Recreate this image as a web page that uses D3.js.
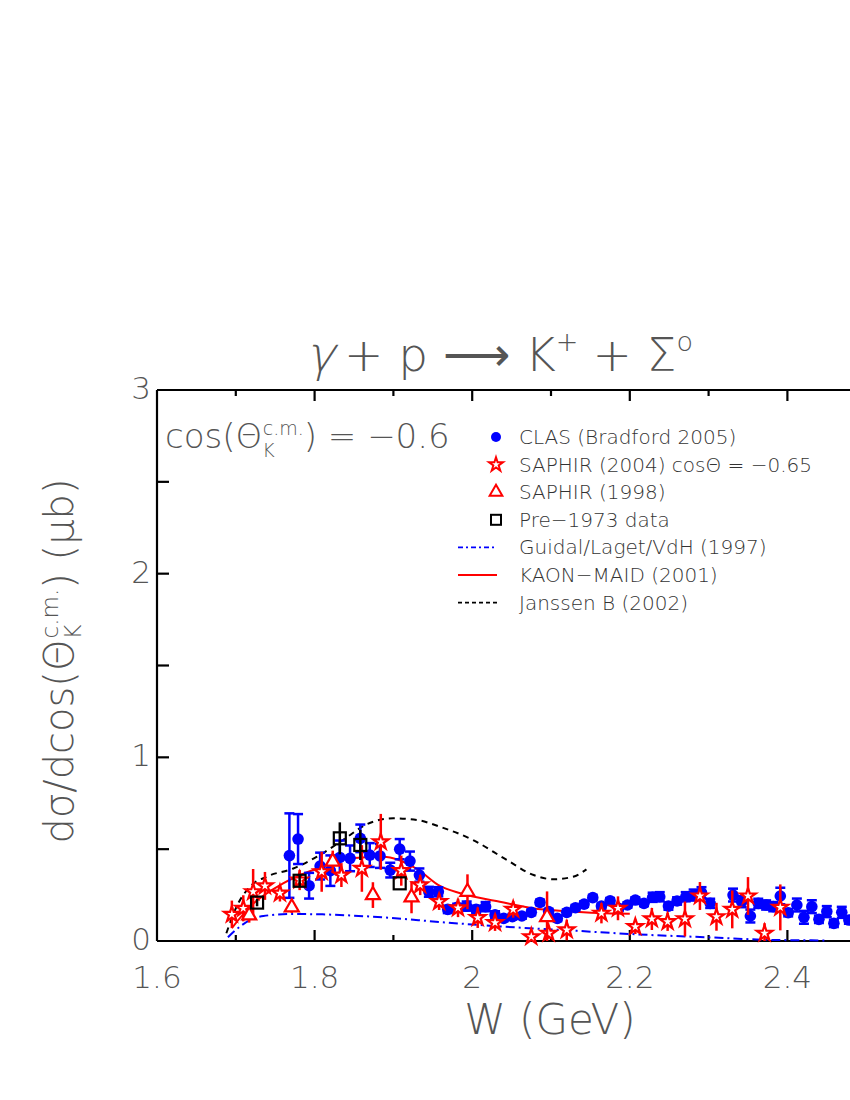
<!DOCTYPE html>
<html><head><meta charset="utf-8">
<script src="https://cdn.jsdelivr.net/npm/d3@7"></script>
<style>body{margin:0;background:#fff}</style></head>
<body><svg id="c" width="850" height="1100"></svg>
<script>
// ---------- data ----------
const clasW = [1.768,1.779,1.793,1.807,1.820,1.832,1.845,1.858,1.870,1.883,1.896,1.908,1.921,1.933,1.945,1.957,1.969,1.981,1.993,2.005,2.017,2.029,2.040,2.051,2.063,2.075,2.086,2.097,2.108,2.120,2.131,2.142,2.153,2.164,2.175,2.186,2.197,2.207,2.218,2.229,2.238,2.249,2.260,2.271,2.281,2.291,2.302,2.331,2.342,2.353,2.363,2.373,2.382,2.391,2.401,2.412,2.421,2.431,2.440,2.450,2.459,2.469,2.478];
const clasV = [0.465,0.555,0.301,0.408,0.383,0.455,0.450,0.559,0.468,0.463,0.386,0.500,0.435,0.359,0.268,0.268,0.172,0.183,0.190,0.172,0.187,0.142,0.123,0.132,0.136,0.156,0.210,0.160,0.123,0.156,0.181,0.201,0.236,0.190,0.219,0.178,0.196,0.223,0.205,0.238,0.241,0.190,0.218,0.241,0.250,0.263,0.205,0.250,0.214,0.136,0.205,0.196,0.187,0.245,0.154,0.196,0.129,0.187,0.118,0.160,0.096,0.156,0.114];
const clasE = [0.230,0.136,0.070,0.073,0.083,0.092,0.070,0.075,0.065,0.065,0.040,0.055,0.052,0.036,0.027,0.025,0.020,0.020,0.025,0.020,0.025,0.020,0.015,0.015,0.015,0.015,0.015,0.015,0.015,0.015,0.015,0.015,0.015,0.015,0.015,0.015,0.015,0.015,0.015,0.025,0.025,0.020,0.020,0.025,0.030,0.030,0.025,0.035,0.030,0.035,0.025,0.025,0.025,0.045,0.020,0.035,0.035,0.035,0.020,0.030,0.020,0.030,0.020];

const saph04W = [1.695,1.7095,1.722,1.737,1.756,1.781,1.809,1.834,1.860,1.884,1.910,1.934,1.958,1.982,2.007,2.029,2.052,2.075,2.097,2.120,2.164,2.185,2.207,2.228,2.248,2.270,2.289,2.310,2.330,2.350,2.371,2.391];
const saph04V = [0.145,0.178,0.268,0.300,0.260,0.332,0.377,0.359,0.395,0.540,0.383,0.305,0.214,0.180,0.127,0.100,0.172,0.023,0.042,0.060,0.151,0.178,0.078,0.120,0.105,0.120,0.245,0.132,0.172,0.245,0.042,0.183];
const saph04E = [0.075,0.071,0.124,0.076,0.045,0.055,0.109,0.065,0.127,0.152,0.082,0.055,0.045,0.050,0.056,0.045,0.045,0.020,0.030,0.056,0.055,0.065,0.040,0.060,0.050,0.095,0.076,0.076,0.103,0.103,0.055,0.125];

const saph98W = [1.717,1.771,1.823,1.874,1.923,1.994,2.095];
const saph98V = [0.140,0.183,0.432,0.250,0.238,0.268,0.130];
const saph98E = [0.040,0.030,0.060,0.070,0.087,0.095,0.140];

const oldW = [1.727,1.781,1.832,1.858,1.908];
const oldV = [0.209,0.328,0.559,0.523,0.314];
const oldE = [0.020,0.030,0.087,0.082,0.000];

const guidalW = [1.690,1.700,1.718,1.735,1.770,1.810,1.850,1.890,1.960,2.040,2.130,2.210,2.300,2.380,2.450];
const guidalV = [0.020,0.060,0.114,0.136,0.147,0.145,0.138,0.128,0.103,0.078,0.056,0.036,0.020,0.006,0.003];

const maidW = [1.695,1.718,1.760,1.803,1.845,1.887,1.930,1.959,1.985,2.035,2.077,2.120,2.160,2.200];
const maidV = [0.070,0.187,0.314,0.395,0.450,0.459,0.392,0.300,0.260,0.214,0.178,0.162,0.152,0.148];

const janW = [1.688,1.701,1.718,1.739,1.773,1.803,1.836,1.866,1.900,1.930,1.959,2.001,2.044,2.078,2.103,2.128,2.145];
const janV = [0.042,0.187,0.296,0.350,0.395,0.459,0.550,0.635,0.668,0.659,0.622,0.550,0.441,0.359,0.336,0.350,0.390];

const xTicks = [1.6,1.8,2.0,2.2,2.4];
const xTickLabels = ["1.6","1.8","2","2.2","2.4"];
const yTicks = [0,1,2,3];
const yTickLabels = ["0","1","2","3"];
const legendLabels = ["CLAS (Bradford 2005)","SAPHIR (2004) cos\u0398 = \u22120.65","SAPHIR (1998)","Pre\u22121973 data","Guidal/Laget/VdH (1997)","KAON\u2212MAID (2001)","Janssen B (2002)"];

// ---------- drawing ----------
const svg = d3.select("#c");
const x = d3.scaleLinear().domain([1.6,2.6]).range([157,945]);
const y = d3.scaleLinear().domain([0,3]).range([941,390]);
const gray = "#555";
const FONT = "'DejaVu Sans', sans-serif";

const zip = (a,b,c) => a.map((d,i)=>({w:d,v:b[i],e:c?c[i]:0}));

// frame
const frame = svg.append("g").attr("stroke","#000").attr("stroke-width",2.2).attr("fill","none");
frame.append("line").attr("x1",x(1.6)).attr("x2",x(2.6)).attr("y1",y(0)).attr("y2",y(0));
frame.append("line").attr("x1",x(1.6)).attr("x2",x(2.6)).attr("y1",y(3)).attr("y2",y(3));
frame.append("line").attr("x1",x(1.6)).attr("x2",x(1.6)).attr("y1",y(0)).attr("y2",y(3));

d3.range(1.7,2.6,0.1).forEach(t=>{
  const major = Math.abs(Math.round(t*10)%2)===0;
  const L = major?11:6;
  frame.append("line").attr("x1",x(t)).attr("x2",x(t)).attr("y1",y(0)).attr("y2",y(0)-L);
  frame.append("line").attr("x1",x(t)).attr("x2",x(t)).attr("y1",y(3)).attr("y2",y(3)+L);
});
[0.5,1,1.5,2,2.5].forEach(t=>{
  frame.append("line").attr("x1",x(1.6)).attr("x2",x(1.6)+12).attr("y1",y(t)).attr("y2",y(t));
});

// tick labels
svg.append("g").selectAll("text").data(xTicks).join("text")
  .attr("x",d=>x(d)).attr("y",988).attr("text-anchor","middle")
  .attr("font-family",FONT).attr("font-weight",200).attr("font-size",31).attr("fill",gray)
  .text((d,i)=>xTickLabels[i]);
svg.append("g").selectAll("text").data(yTicks).join("text")
  .attr("x",151).attr("y",d=>y(d)+9).attr("text-anchor","end")
  .attr("font-family",FONT).attr("font-weight",200).attr("font-size",31).attr("fill",gray)
  .text((d,i)=>yTickLabels[i]);

// axis titles
svg.append("text").attr("x",550).attr("y",1034).attr("text-anchor","middle")
  .attr("font-family",FONT).attr("font-weight",200).attr("font-size",42).attr("fill",gray)
  .text("W (GeV)");
const yl = svg.append("text").attr("transform","translate(73,661) rotate(-90)").attr("text-anchor","middle")
  .attr("font-family",FONT).attr("font-weight",200).attr("font-size",40).attr("fill",gray);
yl.append("tspan").text("d\u03c3/dcos(\u0398");
yl.append("tspan").attr("font-size",23).attr("dy",8).text("K");
yl.append("tspan").attr("font-size",23).attr("dx",-14).attr("dy",-23).text("c.m.");
yl.append("tspan").attr("dy",15).text(") (\u03bcb)");

// title
svg.append("text").attr("transform","translate(306,371) skewX(-14)")
  .attr("font-family",FONT).attr("font-weight",200).attr("font-size",48).attr("fill",gray).text("\u03b3");
const tt = svg.append("text").attr("x",344).attr("y",371)
  .attr("font-family",FONT).attr("font-weight",200).attr("font-size",47).attr("fill",gray);
tt.append("tspan").text("+ p \u27f6 K");
tt.append("tspan").attr("font-size",27).attr("dy",-20).text("+");
tt.append("tspan").attr("dx",14).attr("dy",20).text("+ \u03a3");
tt.append("tspan").attr("font-size",27).attr("dy",-20).text("o");

// angle annotation
const an = svg.append("text").attr("x",165).attr("y",448)
  .attr("font-family",FONT).attr("font-weight",200).attr("font-size",34).attr("fill",gray);
an.append("tspan").text("cos(\u0398");
an.append("tspan").attr("font-size",19).attr("dy",9).text("K");
an.append("tspan").attr("font-size",19).attr("dx",-12).attr("dy",-22).text("c.m.");
an.append("tspan").attr("dy",13).text(") = \u22120.6");

// curves
const line = d3.line().x(d=>x(d.w)).y(d=>y(d.v)).curve(d3.curveMonotoneX);
svg.append("path").attr("d",line(zip(guidalW,guidalV))).attr("fill","none").attr("stroke","#0000ff").attr("stroke-width",2).attr("stroke-dasharray","9,4,2,4");
svg.append("path").attr("d",line(zip(maidW,maidV))).attr("fill","none").attr("stroke","#ff0000").attr("stroke-width",2);
svg.append("path").attr("d",line(zip(janW,janV))).attr("fill","none").attr("stroke","#000").attr("stroke-width",2).attr("stroke-dasharray","6,5");

// symbols
const starPath = d3.symbol().type(d3.symbolStar).size(75)();
const triPath = d3.symbol().type(d3.symbolTriangle).size(85)();

function errBars(data,color,cap){
  const g = svg.append("g").attr("stroke",color).attr("stroke-width",2.5);
  data.filter(d=>d.e>0).forEach(d=>{
    g.append("line").attr("x1",x(d.w)).attr("x2",x(d.w)).attr("y1",y(d.v+d.e)).attr("y2",y(Math.max(0,d.v-d.e)));
    if(cap){
      g.append("line").attr("x1",x(d.w)-cap).attr("x2",x(d.w)+cap).attr("y1",y(d.v+d.e)).attr("y2",y(d.v+d.e));
      g.append("line").attr("x1",x(d.w)-cap).attr("x2",x(d.w)+cap).attr("y1",y(d.v-d.e)).attr("y2",y(d.v-d.e));
    }
  });
}
const clas = zip(clasW,clasV,clasE);
errBars(clas,"#0000ff",5);
svg.append("g").selectAll("circle").data(clas).join("circle")
  .attr("cx",d=>x(d.w)).attr("cy",d=>y(d.v)).attr("r",5.8).attr("fill","#0000ff");

const s04 = zip(saph04W,saph04V,saph04E);
errBars(s04,"#ff0000",0);
svg.append("g").selectAll("path").data(s04).join("path")
  .attr("d",starPath).attr("transform",d=>`translate(${x(d.w)},${y(d.v)})`)
  .attr("fill","#fff").attr("stroke","#ff0000").attr("stroke-width",2.2);

const s98 = zip(saph98W,saph98V,saph98E);
errBars(s98,"#ff0000",0);
svg.append("g").selectAll("path").data(s98).join("path")
  .attr("d",triPath).attr("transform",d=>`translate(${x(d.w)},${y(d.v)})`)
  .attr("fill","#fff").attr("stroke","#ff0000").attr("stroke-width",2.2);

const old = zip(oldW,oldV,oldE);
errBars(old,"#000",0);
svg.append("g").selectAll("rect").data(old).join("rect")
  .attr("x",d=>x(d.w)-6).attr("y",d=>y(d.v)-6).attr("width",12).attr("height",12)
  .attr("fill","none").attr("stroke","#000").attr("stroke-width",2.2);

// legend
const ly0 = 437, ldy = 27.6;
const lg = svg.append("g");
legendLabels.forEach((t,i)=>{
  lg.append("text").attr("x",519).attr("y",ly0+i*ldy+7).attr("font-family",FONT).attr("font-weight",200)
    .attr("font-size",20).attr("fill","#333").text(t);
});
lg.append("circle").attr("cx",496).attr("cy",ly0).attr("r",5).attr("fill","#0000ff");
lg.append("path").attr("d",d3.symbol().type(d3.symbolStar).size(60)()).attr("transform",`translate(496,${ly0+ldy})`).attr("fill","#fff").attr("stroke","#ff0000").attr("stroke-width",2);
lg.append("path").attr("d",d3.symbol().type(d3.symbolTriangle).size(70)()).attr("transform",`translate(496,${ly0+2*ldy})`).attr("fill","#fff").attr("stroke","#ff0000").attr("stroke-width",2);
lg.append("rect").attr("x",491).attr("y",ly0+3*ldy-5).attr("width",10).attr("height",10).attr("fill","none").attr("stroke","#000").attr("stroke-width",2);
lg.append("line").attr("x1",458).attr("x2",497).attr("y1",ly0+4*ldy).attr("y2",ly0+4*ldy).attr("stroke","#0000ff").attr("stroke-width",1.8).attr("stroke-dasharray","5,3,2,3");
lg.append("line").attr("x1",458).attr("x2",497).attr("y1",ly0+5*ldy).attr("y2",ly0+5*ldy).attr("stroke","#ff0000").attr("stroke-width",2);
lg.append("line").attr("x1",458).attr("x2",497).attr("y1",ly0+6*ldy).attr("y2",ly0+6*ldy).attr("stroke","#000").attr("stroke-width",1.8).attr("stroke-dasharray","4,3");
</script>
</body></html>
